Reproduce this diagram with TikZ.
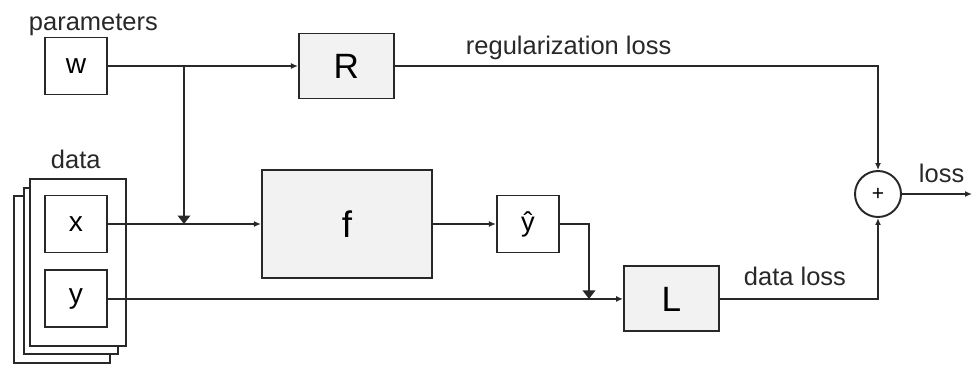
\documentclass[tikz,border=0pt]{standalone}
\usepackage{fontspec}
\setmainfont{Liberation Sans}
\usepackage{xcolor}
\usetikzlibrary{arrows.meta,positioning,calc}

\definecolor{blockgray}{RGB}{242,242,242}
\definecolor{linegray}{RGB}{40,40,40}

\begin{document}
\begin{tikzpicture}[
    line width=1.1pt,
    draw=linegray,
    font=\fontsize{14.5}{17}\selectfont,
    varbox/.style={draw=linegray, fill=white, inner sep=0pt, minimum width=1.24cm, minimum height=1.14cm, font=\fontsize{16}{18}\selectfont},
    opbox/.style={draw=linegray, fill=blockgray, inner sep=0pt, minimum width=1.9cm, minimum height=1.3cm, font=\fontsize{20}{22}\selectfont},
    sheet/.style={draw=linegray, fill=white, inner sep=0pt, anchor=north west},
    sumnode/.style={circle, draw=linegray, fill=white, inner sep=0pt, minimum size=0.92cm, font=\fontsize{12}{14}\selectfont},
    lbl/.style={anchor=base west, inner sep=0pt, text=linegray},
    arrow/.style={draw=linegray, -{Latex[length=1.4mm,width=1.2mm]}},
    joinarrow/.style={draw=linegray, -{Triangle[length=1.7mm,width=2.5mm]}}
]
\useasboundingbox (0,0) rectangle (19.48,-7.3);

% Data stack
\node[sheet, minimum width=1.92cm, minimum height=3.34cm] (sheetC) at (0.26,-3.9) {};
\node[sheet, minimum width=1.88cm, minimum height=3.32cm] (sheetB) at (0.46,-3.74) {};
\node[sheet, minimum width=1.92cm, minimum height=3.34cm] (sheetA) at (0.58,-3.56) {};
\node[lbl] (datalbl) at (1.0,-3.36) {data};

\node[varbox] (x) at (1.52,-4.48) {x};
\node[varbox, below=0.32cm of x] (y) {y};

% Parameters
\node[varbox] (w) at (1.52,-1.32) {w};
\node[lbl] (paramlbl) at (0.56,-0.6) {parameters};
\node[opbox, right=3.8cm of w] (R) {R};

% Model
\node[opbox, right=3.06cm of x, minimum width=3.4cm, minimum height=2.16cm, font=\fontsize{21}{23}\selectfont] (f) {f};
\node[varbox, right=1.26cm of f, font=\fontsize{15.5}{17}\selectfont] (yhat) {ŷ};
\node[opbox] (L) at ($(y)+(11.91,0)$) {L};

% Loss
\node[sumnode] (sum) at (17.56,-3.88) {+};
\coordinate (out) at (19.44,-3.88);
\coordinate (wsplit) at (3.68,-1.32);
\coordinate (ysplit) at ($(y)+(10.26,0)$);

\node[lbl] (reglbl) at (9.3,-1.08) {regularization loss};
\node[lbl] (datalosslbl) at (14.86,-5.7) {data loss};
\node[lbl] (losslbl) at (18.36,-3.64) {loss};

\draw[arrow] (w) -- (R);
\draw[joinarrow] (wsplit) -- (wsplit |- x);
\draw[arrow] (x) -- (f);
\draw[arrow] (f) -- (yhat);
\draw[joinarrow] (yhat.east) -| (ysplit);
\draw[arrow] (y) -- (L);
\draw[arrow] (R) -| (sum);
\draw[arrow] (L) -| (sum);
\draw[arrow] (sum) -- (out);
\end{tikzpicture}
\end{document}
